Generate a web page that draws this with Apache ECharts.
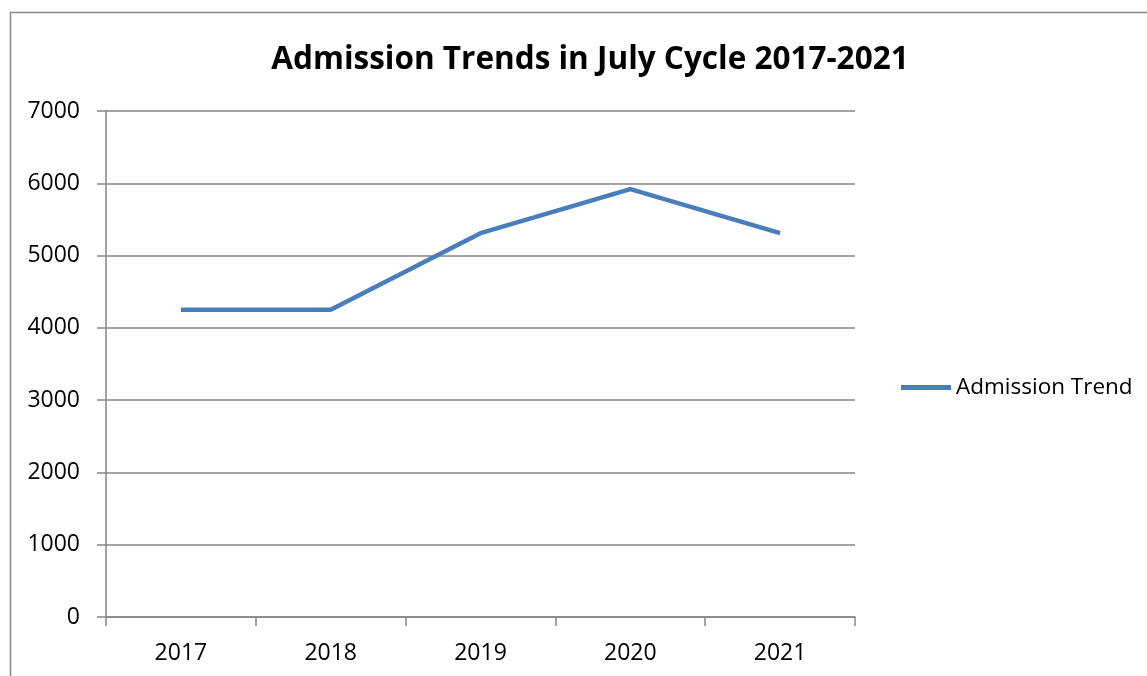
<!DOCTYPE html>
<html><head><meta charset="utf-8">
<script src="https://cdn.jsdelivr.net/npm/echarts@6/dist/echarts.min.js"></script>
<style>html,body{margin:0;padding:0;background:#fff}#c{width:1147px;height:676px}</style>
</head><body><div id="c"></div>
<script>
const categories = ['2017', '2018', '2019', '2020', '2021'];
const admissionTrend = [4250, 4250, 5310, 5920, 5310];
const seriesName = 'Admission Trend';
const titleText = 'Admission Trends in July Cycle 2017-2021';

const font = "'Open Sans', 'Liberation Sans', sans-serif";
const chart = echarts.init(document.getElementById('c'));
chart.setOption({
  animation: false,
  backgroundColor: '#fff',
  title: {
    text: titleText, left: 585, top: 39, textAlign: 'center',
    textStyle: { fontFamily: font, fontSize: 31.5, fontWeight: 'bold', color: '#000' }
  },
  legend: {
    data: [seriesName], left: 896, top: 371, itemWidth: 50, itemHeight: 5, itemGap: 8,
    icon: 'rect',
    textStyle: { fontFamily: font, fontSize: 22.5, color: '#000' }
  },
  graphic: [{ type: 'rect', shape: { x: 10.5, y: 12.5, width: 1300, height: 900 }, style: { fill: 'none', stroke: '#888', lineWidth: 1.5 }, silent: true }],
  grid: { left: 106, right: 292, top: 111, bottom: 59 },
  xAxis: {
    type: 'category', data: categories, boundaryGap: true,
    axisLine: { lineStyle: { color: '#868686', width: 1.5 } },
    axisTick: { show: true, length: 9, lineStyle: { color: '#868686', width: 1.5 } },
    axisLabel: { fontFamily: font, fontSize: 23, color: '#000', margin: 25 }
  },
  yAxis: {
    type: 'value', min: 0, max: 7000, interval: 1000,
    axisLine: { show: true, lineStyle: { color: '#868686', width: 1.5 } },
    axisTick: { show: true, length: 9, lineStyle: { color: '#868686', width: 1.5 } },
    splitLine: { lineStyle: { color: '#868686', width: 1.5 } },
    axisLabel: { fontFamily: font, fontSize: 23, color: '#000', margin: 26, formatter: v => String(v) }
  },
  series: [{
    name: seriesName, type: 'line', data: admissionTrend, symbol: 'none',
    lineStyle: { color: '#4a7ebb', width: 4.5 }, itemStyle: { color: '#4a7ebb' }
  }]
});
</script></body></html>
